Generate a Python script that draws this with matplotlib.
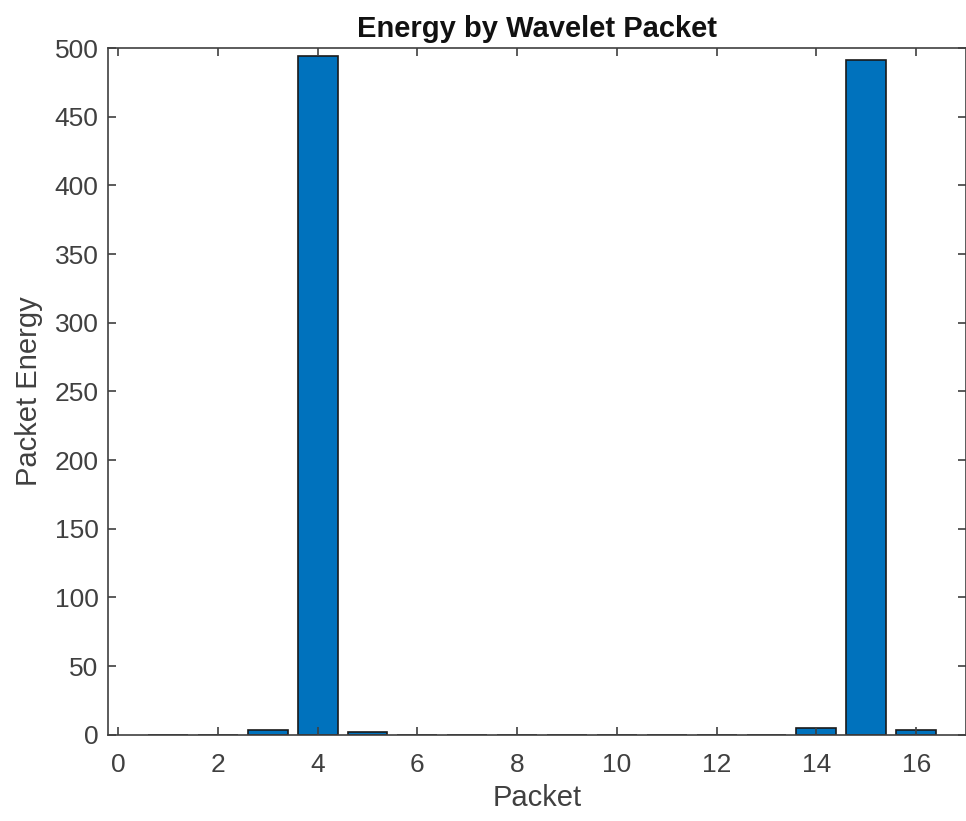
import numpy as np
import matplotlib.pyplot as plt

plt.rcParams['font.family'] = ['Liberation Sans', 'DejaVu Sans']

packets = np.arange(1, 17)
energy = [0, 0, 3.5, 494, 1.8, 0, 0, 0,
          0, 0, 0, 0, 0, 5, 491, 3.5]

fig = plt.figure(figsize=(9.66, 8.21), dpi=100)
ax = fig.add_axes([0.112, 0.105, 0.888, 0.8365])

ax.bar(packets, energy, width=0.8, color='#0072BD', edgecolor='#1a1a1a', linewidth=1.2)

ax.set_xlim(-0.2, 17)
ax.set_ylim(0, 500)
ax.set_xticks(np.arange(0, 17, 2))
ax.set_yticks(np.arange(0, 501, 50))
ax.tick_params(direction='in', top=True, right=True, labelsize=19, colors='#404040',
               length=6, width=1.2, pad=7)
ax.tick_params(axis='x', pad=13)
for s in ax.spines.values():
    s.set_color('#404040')
    s.set_linewidth(1.2)

ax.set_xlabel('Packet', fontsize=21, color='#404040', labelpad=5)
ax.set_ylabel('Packet Energy', fontsize=21, color='#404040', labelpad=8)
ax.set_title('Energy by Wavelet Packet', fontsize=21, fontweight='bold', pad=8, color='#111111')

fig.savefig('out.png', dpi=100)
